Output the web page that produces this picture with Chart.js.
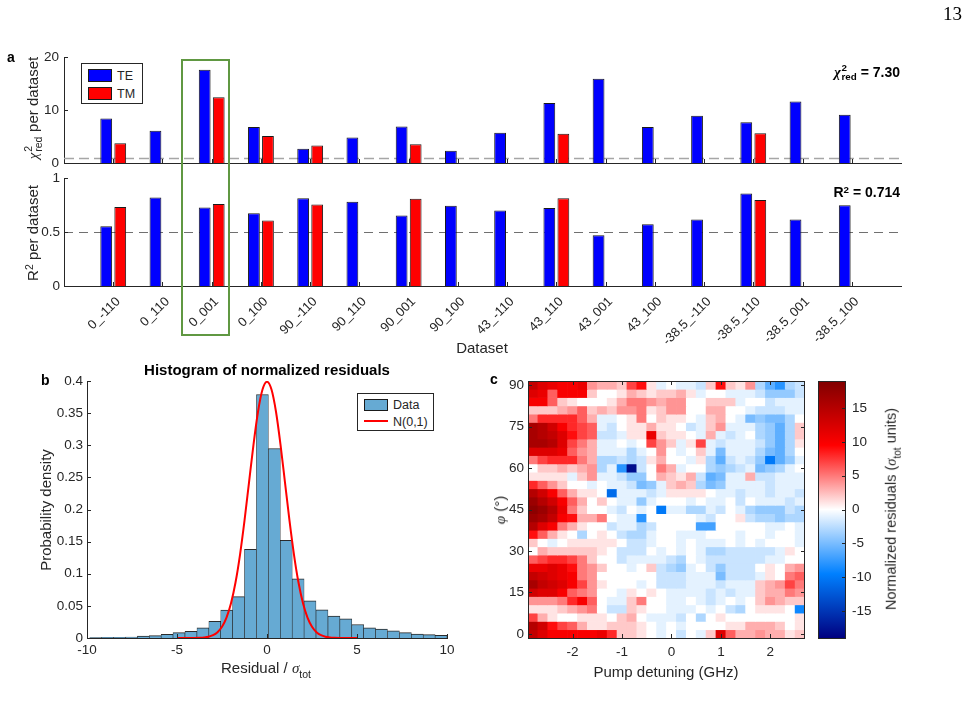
<!DOCTYPE html>
<html>
<head>
<meta charset="utf-8">
<title>Fit quality per dataset</title>
<script src="https://cdn.jsdelivr.net/npm/chart.js@4.4.1/dist/chart.umd.min.js"></script>
<style>
html,body{margin:0;padding:0;background:#fff;}
#fig{position:relative;width:968px;height:708px;overflow:hidden;background:#fff;font-family:"Liberation Sans",Arial,Helvetica,sans-serif;color:#262626;}
#fig canvas{position:absolute;left:0;top:0;}
.t{position:absolute;white-space:nowrap;line-height:1;}
.c{transform:translate(-50%,-50%);}
.r{transform:translate(-50%,-50%) rotate(-90deg);}
.b{font-weight:bold;}
.gk{font-family:"Liberation Serif","DejaVu Serif",serif;font-style:italic;}
.ss{display:inline-block;position:relative;width:1.1em;height:1em;}
.ss span{position:absolute;left:0.08em;font-size:0.7em;line-height:1;}
.ss .up{top:0;}
.ss .dn{top:0.94em;}
.sup{font-size:0.7em;position:relative;top:-0.45em;}
.sub{font-size:0.7em;position:relative;top:0.45em;}
.leg{position:absolute;border:1px solid #262626;background:#fff;box-sizing:border-box;}
.sw{position:absolute;box-sizing:border-box;border:1px solid #1a1a1a;}
.lt{position:absolute;font-size:12.5px;line-height:1;transform:translateY(-50%);white-space:nowrap;}
</style>
</head>
<body>
<div id="fig">
  <canvas id="cA1" width="968" height="708"></canvas>
  <canvas id="cA2" width="968" height="708"></canvas>
  <canvas id="cB" width="968" height="708"></canvas>
  <canvas id="cC" width="968" height="708"></canvas>
  <canvas id="cD" width="968" height="708"></canvas>

  <div class="t" style="left:943px;top:4px;font-family:'Liberation Serif','DejaVu Serif',serif;font-size:19px;color:#000;">13</div>

  <!-- panel a -->
  <div class="t b" style="left:7px;top:50px;font-size:14px;color:#000;">a</div>
  <div class="t r" style="left:32px;top:108px;font-size:15px;"><span class="gk">χ</span><span class="ss"><span class="up">2</span><span class="dn">red</span></span> per dataset</div>
  <div class="t r" style="left:32px;top:233px;font-size:15px;">R<span class="sup">2</span> per dataset</div>
  <div class="t c" style="left:482px;top:347px;font-size:15px;">Dataset</div>
  <div class="leg" style="left:81px;top:63px;width:62px;height:41px;">
    <div class="sw" style="left:6px;top:5px;width:24px;height:12.5px;background:#0000ff;"></div>
    <div class="lt" style="left:35px;top:11.5px;">TE</div>
    <div class="sw" style="left:6px;top:23px;width:24px;height:12.5px;background:#ff0000;"></div>
    <div class="lt" style="left:35px;top:29.5px;">TM</div>
  </div>
  <div class="t b" style="right:68px;top:63px;font-size:14px;color:#000;"><span class="gk" style="font-weight:bold;">χ</span><span class="ss" style="width:1.15em;"><span class="up">2</span><span class="dn">red</span></span> = 7.30</div>
  <div class="t b" style="right:68px;top:185px;font-size:14px;color:#000;">R<span class="sup">2</span> = 0.714</div>
  <div style="position:absolute;left:181px;top:59px;width:49px;height:277px;box-sizing:border-box;border:2px solid rgb(96,152,66);"></div>

  <!-- panel b -->
  <div class="t b" style="left:41px;top:373px;font-size:14px;color:#000;">b</div>
  <div class="t c b" style="left:267px;top:369px;font-size:15px;color:#000;">Histogram of normalized residuals</div>
  <div class="t r" style="left:45px;top:510px;font-size:15px;">Probability density</div>
  <div class="t c" style="left:266px;top:668px;font-size:15px;">Residual / <span class="gk">σ</span><span class="sub">tot</span></div>
  <div class="leg" style="left:357px;top:393px;width:77px;height:38px;">
    <div class="sw" style="left:6px;top:5px;width:24px;height:12px;background:rgb(102,170,211);"></div>
    <div class="lt" style="left:35px;top:11px;">Data</div>
    <div style="position:absolute;left:6px;top:26px;width:24px;height:2px;background:#ff0000;"></div>
    <div class="lt" style="left:35px;top:27.5px;">N(0,1)</div>
  </div>

  <!-- panel c -->
  <div class="t b" style="left:490px;top:372px;font-size:14px;color:#000;">c</div>
  <div class="t r" style="left:500px;top:510px;font-size:15px;"><span class="gk">φ</span> (°)</div>
  <div class="t c" style="left:666px;top:671px;font-size:15px;">Pump detuning (GHz)</div>
  <div class="t r" style="left:891px;top:509px;font-size:14.5px;">Normalized residuals (<span class="gk">σ</span><span class="sub">tot</span> units)</div>
</div>

<script>
// ---------------- data ----------------
const datasetNames = ['0_-110','0_110','0_001','0_100','90_-110','90_110','90_001','90_100','43_-110','43_110','43_001','43_100','-38.5_-110','-38.5_110','-38.5_001','-38.5_100'];
const chi2TE = [8.4, 6.1, 17.6, 6.8, 2.7, 4.8, 6.9, 2.3, 5.7, 11.3, 15.9, 6.8, 8.9, 7.7, 11.6, 9.1];
const chi2TM = [3.75, null, 12.4, 5.1, 3.3, null, 3.55, null, null, 5.5, null, null, null, 5.6, null, null];
const r2TE = [0.554, 0.819, 0.726, 0.674, 0.812, 0.779, 0.652, 0.742, 0.699, 0.723, 0.471, 0.572, 0.615, 0.856, 0.615, 0.748];
const r2TM = [0.732, null, 0.760, 0.606, 0.754, null, 0.809, null, null, 0.812, null, null, null, 0.797, null, null];
const chi2Ref = 1;
const r2Ref = 0.5;

const binEdges = [-9.85,-9.19,-8.53,-7.86,-7.20,-6.54,-5.88,-5.22,-4.56,-3.89,-3.23,-2.57,-1.91,-1.25,-0.59,0.08,0.74,1.40,2.06,2.72,3.39,4.05,4.71,5.37,6.03,6.69,7.36,8.02,8.68,9.34,10.00];
const binDensity = [0.0005,0.001,0.001,0.0015,0.003,0.0036,0.0057,0.0083,0.0104,0.016,0.026,0.0436,0.0644,0.138,0.379,0.295,0.152,0.092,0.058,0.044,0.034,0.030,0.021,0.016,0.014,0.011,0.0083,0.0062,0.0052,0.0042];
const normX = [-5,-4.75,-4.5,-4.25,-4,-3.75,-3.5,-3.25,-3,-2.75,-2.5,-2.25,-2,-1.75,-1.5,-1.25,-1,-0.75,-0.5,-0.25,0,0.25,0.5,0.75,1,1.25,1.5,1.75,2,2.25,2.5,2.75,3,3.25,3.5,3.75,4,4.25,4.5,4.75,5];
const normPdf = [0.0000,0.0000,0.0000,0.0000,0.0001,0.0004,0.0009,0.0020,0.0044,0.0091,0.0175,0.0317,0.0540,0.0863,0.1295,0.1826,0.2420,0.3011,0.3521,0.3867,0.3989,0.3867,0.3521,0.3011,0.2420,0.1826,0.1295,0.0863,0.0540,0.0317,0.0175,0.0091,0.0044,0.0020,0.0009,0.0004,0.0001,0.0000,0.0000,0.0000,0.0000];

const detuning = [-2.8,-2.6,-2.4,-2.2,-2.0,-1.8,-1.6,-1.4,-1.2,-1.0,-0.8,-0.6,-0.4,-0.2,0.0,0.2,0.4,0.6,0.8,1.0,1.2,1.4,1.6,1.8,2.0,2.2,2.4,2.6];
const phiVals = [90,87,84,81,78,75,72,69,66,63,60,57,54,51,48,45,42,39,36,33,30,27,24,21,18,15,12,9,6,3,0];
const phiStep = 3;
const residuals = [
 [14,12,11,10,10,11, 4,3,3,2,7,9,1,-1, 0,-1,-1,-2,2,9,2,1,4,-3,-6,-8,-3,-2],
 [12,11,6,10,10,10, 2,0,0,1,3,2,1,2, 2,3,1,-1,0,0,-1,-1,-1,-2,-4,-4,-4,-2],
 [10,10,6,2,1,0, 0,0,1,3,5,5,4,3, 4,4,0,0,2,2,2,-1,0,0,-2,-1,-1,-1],
 [2,2,2,3,4,6, 2,3,2,4,4,5,1,2, 4,4,0,0,3,3,0,0,-1,-2,-2,-2,-1,-1],
 [5,8,8,8,8,6, 3,-1,-1,0,1,5,0,2, 1,1,0,-1,2,3,0,-1,-5,-4,-5,-5,-3,0],
 [16,15,13,10,8,7, 6,-1,-2,0,1,1,3,1, 1,0,-2,-1,2,4,-1,-1,-1,-3,-4,-6,-3,2],
 [16,15,14,12,9,7, 6,-2,-2,-1,1,1,11,2, 1,1,0,-1,3,-1,-2,-1,0,-3,-4,-6,-3,2],
 [16,16,15,12,7,5, 3,-1,-1,0,-1,0,7,4, 2,-1,1,7,-1,-2,-1,-1,-1,-2,-4,-6,-3,1],
 [12,12,12,11,6,4, 3,-1,-1,-1,-3,-1,0,4, 0,-1,0,2,-1,-5,-1,-1,-1,-3,-5,-6,-3,0],
 [5,7,8,8,8,5, 3,-3,-3,-2,-3,-2,1,3, 0,0,-1,1,-3,-6,-2,-1,-2,-4,-10,-6,-4,-1],
 [0,2,2,3,2,3, 4,-3,-1,-8,-18,-2,0,5, 3,-1,0,0,-3,-4,-3,-2,-1,-5,-4,-3,-1,0],
 [1,1,1,1,-1,2, 4,-1,-1,-2,-4,-4,0,3, 2,1,3,-2,-6,-5,-1,-1,3,-2,-2,-1,-1,-1],
 [8,6,4,2,0,0, -1,0,-1,-1,-2,-5,-4,-1, 2,3,2,-3,-5,-4,-1,-1,-1,-1,-2,-1,-1,-1],
 [15,13,10,6,3,1, 1,0,-11,-1,-1,-1,-2,-1, 1,1,1,1,0,-1,-1,-2,-1,-1,-2,-1,-1,-2],
 [17,15,13,10,6,3, 0,2,0,-1,-1,-4,-1,0, 0,0,-1,0,-1,-1,0,-2,0,-1,-1,-1,-2,-1],
 [18,17,15,11,5,2, 0,0,-1,-2,0,-1,0,-10, -1,-1,-3,-3,-1,-2,0,-1,-3,-4,-4,-4,-2,-3],
 [17,16,14,10,9,3, 3,5,0,-1,-1,-8,0,0, 0,0,0,-1,-2,0,0,1,-2,-3,-3,-4,-3,-3],
 [15,12,10,5,3,1, 0,0,-2,-1,-1,-3,-2,0, 0,0,0,-7,-7,0,0,0,0,0,-1,-1,0,-1],
 [9,6,3,1,0,-3, 0,1,0,-2,-3,-3,-1,0, 0,-1,-1,-1,0,0,0,-1,0,0,-1,0,0,-1],
 [2,0,-1,0,1,1, 1,1,1,0,-2,-2,-1,0, 0,-1,0,-1,-1,-1,0,-1,0,-1,0,0,0,-1],
 [0,3,2,2,2,2, 2,1,0,-2,-2,-2,0,-1, 0,-1,0,-1,-3,-3,-2,-2,-2,-2,-2,-1,1,0],
 [6,7,8,8,7,5, 2,0,0,-2,-1,-1,-1,-1, -2,-3,0,-1,-2,-2,-2,-2,-2,-2,-1,-1,0,0],
 [11,11,12,11,9,5, 4,2,0,0,-1,0,2,-2, -3,-4,-1,0,-2,-4,-2,-2,-2,0,1,0,3,4],
 [14,13,12,11,10,5, 4,0,0,0,0,0,0,-2, -2,-2,-1,-1,-1,-5,-2,-2,-2,-1,1,0,5,6],
 [16,14,13,12,10,7, 4,1,0,0,0,-1,0,-2, -2,-2,-1,-1,-1,-2,-1,-1,-1,2,3,4,7,5],
 [13,12,12,10,6,5, 4,0,0,-1,1,0,1,0, -1,-1,-1,-1,-2,-1,-2,-1,-1,2,3,3,5,4],
 [4,4,4,5,8,10, 6,0,-1,-1,2,5,0,0, -1,-1,0,-1,-2,-1,0,-1,0,2,4,3,2,2],
 [1,1,1,2,3,4, 5,0,-2,-2,2,1,0,0, -1,-1,-1,0,-1,0,-2,-3,0,1,1,1,0,-9],
 [7,3,1,0,0,1, 1,1,0,2,3,0,-1,-1, -1,-2,0,-3,0,1,0,0,0,0,0,0,0,1],
 [15,13,9,7,6,3, 1,1,2,2,2,1,0,-1, 0,-1,0,0,0,0,1,1,3,3,3,2,0,1],
 [14,12,10,10,10,10, 10,11,8,2,2,1,0,-1, 0,-2,0,-1,2,12,6,3,3,4,3,3,1,2]
];
const cmin = -19, cmax = 19;

// ---------------- styles ----------------
const AX = '#262626';
const cmapStops = [[-19,[0,0,128]],[-9.5,[0,128,255]],[0,[255,255,255]],[9.5,[255,0,0]],[19,[128,0,0]]];
function colorFor(v){
  v = Math.max(cmin, Math.min(cmax, v));
  for (let i = 0; i < cmapStops.length - 1; i++) {
    const [a, ca] = cmapStops[i], [b, cb] = cmapStops[i+1];
    if (v <= b) {
      const t = (v - a) / (b - a);
      const c = ca.map((x, k) => Math.round(x + (cb[k] - x) * t));
      return 'rgb(' + c.join(',') + ')';
    }
  }
  return 'rgb(128,0,0)';
}

Chart.defaults.font.family = "'Liberation Sans', Arial, sans-serif";
Chart.defaults.font.size = 13.5;
Chart.defaults.color = AX;
Chart.defaults.animation = false;
Chart.defaults.responsive = false;
Chart.defaults.events = [];
Chart.defaults.plugins.legend.display = false;
Chart.defaults.plugins.tooltip.enabled = false;

const noGrid = {display:false, drawTicks:false};
const fmt = v => String(parseFloat(Number(v).toFixed(2)));

function makeDeco(cfg){
  return {
    id: 'deco',
    beforeDatasetsDraw(chart){
      const a = chart.chartArea, c = chart.ctx;
      (cfg.refs || []).forEach(r => {
        const y = Math.round(chart.scales.y.getPixelForValue(r.value)) + 0.5;
        c.save(); c.strokeStyle = r.color; c.lineWidth = r.width; c.setLineDash(r.dash);
        c.beginPath(); c.moveTo(a.left, y); c.lineTo(a.right, y); c.stroke(); c.restore();
      });
    },
    afterDatasetsDraw(chart){
      const a = chart.chartArea, c = chart.ctx, L = cfg.len || 4;
      c.save(); c.strokeStyle = AX; c.lineWidth = 1; c.setLineDash([]);
      (cfg.ticks || []).forEach(t => {
        const s = chart.scales[t.id], n = s.ticks.length;
        for (let i = 0; i < n; i++) {
          if (t.skipEnds && (i === 0 || i === n - 1)) continue;
          const p = Math.round(s.getPixelForTick(i)) + 0.5;
          c.beginPath();
          if (s.isHorizontal()) {
            if (t.near !== false) { c.moveTo(p, a.bottom); c.lineTo(p, a.bottom - L); }
            if (t.far) { c.moveTo(p, a.top); c.lineTo(p, a.top + L); }
          } else {
            if (t.near !== false) { c.moveTo(a.left, p); c.lineTo(a.left + L, p); }
            if (t.far) { c.moveTo(a.right, p); c.lineTo(a.right - L, p); }
          }
          c.stroke();
        }
      });
      if (cfg.box) c.strokeRect(a.left + 0.5, a.top + 0.5, a.right - a.left - 1, a.bottom - a.top);
      c.restore();
    }
  };
}

const padLabels = ['', ...datasetNames, ''];
const pad = arr => [null, ...arr, null];
const barStyle = {borderColor:'#1a1a1a', borderWidth:1, categoryPercentage:0.57, barPercentage:0.84};

// ---------------- panel a: chi2 ----------------
new Chart(document.getElementById('cA1'), {
  type: 'bar',
  data: { labels: padLabels, datasets: [
    Object.assign({label:'TE', data: pad(chi2TE), backgroundColor:'#0000ff'}, barStyle),
    Object.assign({label:'TM', data: pad(chi2TM), backgroundColor:'#ff0000'}, barStyle)
  ]},
  options: {
    devicePixelRatio: 1,
    layout: { padding: { left: 14, right: 67, top: 57, bottom: 535 } },
    scales: {
      x: { offset:false, grid:noGrid, border:{color:AX, width:1}, ticks:{display:false}, afterFit: s => { s.height = 10; } },
      y: { min:0, max:20, grid:noGrid, border:{color:AX, width:1}, ticks:{stepSize:10, padding:5, callback: fmt}, afterFit: s => { s.width = 50; } }
    }
  },
  plugins: [makeDeco({refs:[{value:chi2Ref, color:'#a6a6a6', width:1.5, dash:[10,5]}], ticks:[{id:'x', skipEnds:true},{id:'y'}]})]
});

// ---------------- panel a: R2 ----------------
new Chart(document.getElementById('cA2'), {
  type: 'bar',
  data: { labels: padLabels, datasets: [
    Object.assign({label:'TE', data: pad(r2TE), backgroundColor:'#0000ff'}, barStyle),
    Object.assign({label:'TM', data: pad(r2TM), backgroundColor:'#ff0000'}, barStyle)
  ]},
  options: {
    devicePixelRatio: 1,
    layout: { padding: { left: 14, right: 67, top: 178, bottom: 352 } },
    scales: {
      x: { offset:false, grid:noGrid, border:{color:AX, width:1},
           ticks:{autoSkip:false, minRotation:45, maxRotation:45, padding:8, labelOffset:5, font:{size:13}},
           afterFit: s => { s.height = 70; } },
      y: { min:0, max:1, grid:noGrid, border:{color:AX, width:1}, ticks:{stepSize:0.5, padding:4, callback: fmt}, afterFit: s => { s.width = 50; } }
    }
  },
  plugins: [makeDeco({refs:[{value:r2Ref, color:'#707070', width:1, dash:[9,6]}], ticks:[{id:'x', skipEnds:true},{id:'y'}]})]
});

// ---------------- panel b: histogram ----------------
new Chart(document.getElementById('cB'), {
  type: 'bar',
  data: { datasets: [
    { type:'line', label:'N(0,1)', data: normX.map((x, i) => ({x, y: normPdf[i]})), borderColor:'#ff0000', borderWidth:2,
      pointRadius:0, cubicInterpolationMode:'monotone', order:0 },
    { type:'bar', label:'Data', data: binDensity.map((d, i) => ({x: (binEdges[i] + binEdges[i+1]) / 2, y: d})),
      backgroundColor:'rgb(102,170,211)', borderColor:'rgba(20,20,20,0.9)', borderWidth:{top:1, left:0.6, right:0.6, bottom:0},
      barPercentage:1, categoryPercentage:1, order:1 }
  ]},
  options: {
    devicePixelRatio: 1,
    layout: { padding: { left: 37, right: 521, top: 381, bottom: 40 } },
    scales: {
      x: { type:'linear', offset:false, min:-10, max:10, grid:noGrid, border:{color:AX, width:1},
           ticks:{stepSize:5, padding:4}, afterFit: s => { s.height = 30; } },
      y: { min:0, max:0.4, grid:noGrid, border:{color:AX, width:1},
           ticks:{stepSize:0.05, padding:4, callback: fmt}, afterFit: s => { s.width = 50; } }
    }
  },
  plugins: [makeDeco({ticks:[{id:'x'},{id:'y'}]})]
});

// ---------------- panel c: heatmap ----------------
const heatDatasets = phiVals.map((phi, r) => ({
  label: 'phi ' + phi,
  data: detuning.map(x => ({x, y: [phi - phiStep / 2, phi + phiStep / 2]})),
  backgroundColor: residuals[r].map(colorFor),
  borderWidth: 0, barPercentage: 1, categoryPercentage: 1, grouped: false
}));
new Chart(document.getElementById('cC'), {
  type: 'bar',
  data: { datasets: heatDatasets },
  options: {
    devicePixelRatio: 1,
    layout: { padding: { left: 488, right: 163, top: 381, bottom: 40 } },
    scales: {
      x: { type:'linear', offset:false, min:-2.9, max:2.7, grid:noGrid, border:{display:false},
           ticks:{stepSize:1, includeBounds:false, padding:6}, afterFit: s => { s.height = 30; } },
      y: { min:-1.5, max:91.5, grid:noGrid, border:{display:false},
           ticks:{stepSize:15, includeBounds:false, padding:4}, afterFit: s => { s.width = 40; } }
    }
  },
  plugins: [makeDeco({box:true, ticks:[{id:'x', far:true},{id:'y', far:true}]})]
});

// ---------------- colorbar ----------------
new Chart(document.getElementById('cD'), {
  type: 'bar',
  data: { labels: [''], datasets: [{
    data: [[cmin, cmax]],
    backgroundColor: (ctx) => {
      const ch = ctx.chart;
      if (!ch.chartArea) return '#ffffff';
      const ys = ch.scales.y;
      const g = ch.ctx.createLinearGradient(0, ys.getPixelForValue(cmin), 0, ys.getPixelForValue(cmax));
      cmapStops.forEach(([v, c]) => g.addColorStop((v - cmin) / (cmax - cmin), 'rgb(' + c.join(',') + ')'));
      return g;
    },
    borderWidth: 0, barPercentage: 1, categoryPercentage: 1
  }]},
  options: {
    devicePixelRatio: 1,
    layout: { padding: { left: 818, right: 82, top: 381, bottom: 70 } },
    scales: {
      x: { display:false },
      y: { position:'right', min:cmin, max:cmax, grid:noGrid, border:{display:false},
           ticks:{stepSize:5, includeBounds:false, padding:6}, afterFit: s => { s.width = 40; } }
    }
  },
  plugins: [makeDeco({box:true, ticks:[{id:'y', near:false, far:true}]})]
});
</script>
</body>
</html>
